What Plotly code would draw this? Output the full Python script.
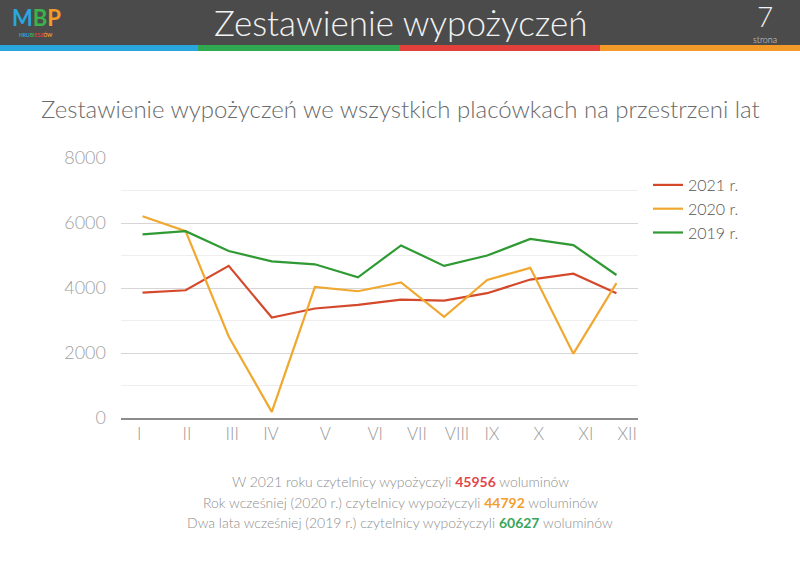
import plotly.graph_objects as go

# --- data ---
MONTHS = ["I", "II", "III", "IV", "V", "VI", "VII", "VIII", "IX", "X", "XI", "XII"]
LOANS_2021 = [3860, 3930, 4680, 3090, 3370, 3480, 3640, 3610, 3840, 4260, 4440, 3840]
LOANS_2020 = [6210, 5750, 2510, 190, 4030, 3900, 4170, 3110, 4250, 4620, 1980, 4150]
LOANS_2019 = [5650, 5750, 5140, 4820, 4730, 4330, 5310, 4680, 5000, 5510, 5320, 4400]
TOTALS = {"2021": 45956, "2020": 44792, "2019": 60627}

# labels in the original sit a bit off the points
MONTH_TICK_POS = [-0.08, 1.03, 2.08, 2.98, 4.24, 5.40, 6.37, 7.30, 8.11, 9.20, 10.29, 11.25]

COL_RED = "#d4492c"
COL_ORANGE = "#f0a830"
COL_GREEN = "#2f9a34"
FONT = "Lato"

W, H = 800, 566
ML, MR, MT, MB = 121, 162, 158, 148
PW, PH = W - ML - MR, H - MT - MB


def px_x(px):
    return (px - ML) / PW


def px_y(py):
    return (H - MB - py) / PH


x_idx = list(range(len(MONTHS)))

fig = go.Figure()
for name, vals, col in [
    ("2021 r.", LOANS_2021, COL_RED),
    ("2020 r.", LOANS_2020, COL_ORANGE),
    ("2019 r.", LOANS_2019, COL_GREEN),
]:
    fig.add_trace(
        go.Scatter(x=x_idx, y=vals, name=name, mode="lines", line=dict(color=col, width=2.2))
    )

# header band + coloured stripe
shapes = [
    dict(type="rect", xref="paper", yref="paper", x0=px_x(0), x1=px_x(W),
         y0=px_y(45), y1=px_y(0), fillcolor="#4b4b4b", line_width=0, layer="below"),
]
for x0, x1, c in [(0, 198, "#2aa6df"), (198, 400, "#2fa84f"), (400, 600, "#e2403b"), (600, 800, "#f39a28")]:
    shapes.append(dict(type="rect", xref="paper", yref="paper", x0=px_x(x0), x1=px_x(x1),
                       y0=px_y(51), y1=px_y(45), fillcolor=c, line_width=0, layer="below"))

logo_sub = "".join(
    f"<span style='color:{c}'>{ch}</span>"
    for ch, c in zip("HRUBIESZÓW", ["#2aa6df"] * 3 + ["#3bb24a"] * 2 + ["#e2403b"] * 3 + ["#f39a28"] * 2)
)

annotations = [
    dict(text="Zestawienie wypożyczeń", x=px_x(400), y=px_y(22), font=dict(size=35, color="#f2f2f2", weight=300)),
    dict(text="7", x=px_x(765), y=px_y(16), font=dict(size=28, color="#f2f2f2", weight=300)),
    dict(text="strona", x=px_x(765), y=px_y(39), font=dict(size=9, color="#dddddd", weight=300)),
    dict(text="<span style='color:#2aa6df'>M</span><span style='color:#3bb24a'>B</span>"
              "<span style='color:#f39a28'>P</span>",
         x=px_x(36), y=px_y(18), font=dict(size=22, weight="bold")),
    dict(text=logo_sub, x=px_x(36), y=px_y(35), font=dict(size=5, weight="bold")),
    dict(text="Zestawienie wypożyczeń we wszystkich placówkach na przestrzeni lat",
         x=px_x(400), y=px_y(108), font=dict(size=24, color="#6a6a6a", weight=300)),
]

summary = [
    ("W 2021 roku czytelnicy wypożyczyli ", TOTALS["2021"], "#e0474a", 481),
    ("Rok wcześniej (2020 r.) czytelnicy wypożyczyli ", TOTALS["2020"], "#f0a030", 502),
    ("Dwa lata wcześniej (2019 r.) czytelnicy wypożyczyli ", TOTALS["2019"], "#3aa65a", 522),
]
for pre, num, c, py in summary:
    annotations.append(dict(
        text=f"{pre}<b><span style='color:{c}'>{num}</span></b> woluminów",
        x=px_x(400), y=px_y(py), font=dict(size=14, color="#8e8e8e", weight=300),
    ))

for a in annotations:
    a.update(xref="paper", yref="paper", showarrow=False, xanchor="center", yanchor="middle")

fig.update_layout(
    width=W,
    height=H,
    margin=dict(l=ML, r=MR, t=MT, b=MB),
    paper_bgcolor="white",
    plot_bgcolor="white",
    font=dict(family=FONT),
    shapes=shapes,
    annotations=annotations,
    showlegend=True,
    legend=dict(
        x=px_x(648), y=px_y(168), xanchor="left", yanchor="top",
        font=dict(size=16, color="#555555", weight=300),
        tracegroupgap=0, itemwidth=30, bgcolor="rgba(0,0,0,0)",
    ),
)
fig.update_xaxes(
    range=[-0.5, 11.5],
    tickmode="array",
    tickvals=MONTH_TICK_POS,
    ticktext=MONTHS,
    showgrid=False,
    zeroline=False,
    showline=True,
    linecolor="#8c8c8c",
    linewidth=2,
    tickfont=dict(size=17, color="#9a9a9a", weight=300),
    ticks="",
)
fig.update_yaxes(
    range=[0, 8000],
    dtick=2000,
    gridcolor="#d6d6d6",
    gridwidth=1,
    minor=dict(dtick=1000, showgrid=True, gridcolor="#eeeeee", gridwidth=1),
    zeroline=False,
    showline=False,
    tickfont=dict(size=18, color="#a0a0a0", weight=300),
    ticklabelstandoff=14,
)

# the page's default body margin would shift the fixed-size figure by 8px
fig.write_html(
    "out.html",
    config={"displayModeBar": False},
    post_script="document.body.style.margin = '0';",
)
